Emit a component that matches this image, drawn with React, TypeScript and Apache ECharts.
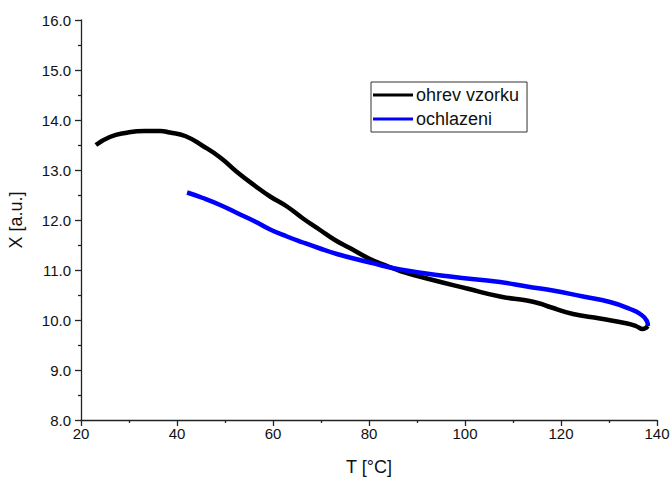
import React, { useEffect, useRef } from "react";
import * as echarts from "echarts";

const heatingT = [23.1, 26.0, 29.2, 33.3, 36.5, 38.5, 41.7, 45.4, 49.0, 52.5, 56.3, 59.4, 62.9, 66.25, 69.8, 72.9, 76.0, 80.2, 83.3, 86.5, 93.3, 100.4, 107.3, 112.9, 115.6, 117.7, 122.5, 128.1, 133.8, 135.8, 137.0, 138.1];
const heatingX = [13.5, 13.66, 13.74, 13.78, 13.78, 13.75, 13.68, 13.48, 13.25, 12.96, 12.68, 12.47, 12.27, 12.03, 11.8, 11.6, 11.44, 11.22, 11.1, 10.98, 10.8, 10.63, 10.47, 10.39, 10.33, 10.26, 10.12, 10.03, 9.93, 9.87, 9.82, 9.88];

const coolingT = [42.1, 45.4, 49.0, 52.5, 56.25, 59.4, 62.9, 66.25, 69.8, 73.3, 76.0, 80.2, 86.5, 96.9, 107.3, 112.9, 118.3, 124.6, 130.2, 134.4, 136.5, 137.9, 138.1];
const coolingX = [12.55, 12.44, 12.3, 12.14, 11.97, 11.81, 11.67, 11.55, 11.43, 11.32, 11.25, 11.15, 11.01, 10.87, 10.76, 10.67, 10.59, 10.47, 10.36, 10.22, 10.12, 9.98, 9.88];

const seriesNames = ["ohrev vzorku", "ochlazeni"];
const xTitle = "T [°C]";
const yTitle = "X [a.u.]";

const FONT = "Liberation Sans, Arial, sans-serif";

export default function App() {
  const ref = useRef<HTMLDivElement>(null);
  useEffect(() => {
    if (!ref.current) return;
    const chart = echarts.init(ref.current, null, { renderer: "svg" });
    const axisCommon = {
      axisLine: { show: true, onZero: false, lineStyle: { color: "#222", width: 1.3 } },
      axisTick: { show: true, inside: false, length: 6, lineStyle: { color: "#222", width: 1.3 } },
      minorTick: { show: true, splitNumber: 2, length: 3, lineStyle: { color: "#222", width: 1.3 } },
      splitLine: { show: false },
    };
    chart.setOption({
      animation: false,
      backgroundColor: "#fff",
      textStyle: { fontFamily: FONT },
      grid: { left: 81, top: 20, right: 14, bottom: 58, containLabel: false, outerBoundsMode: "none" },
      legend: {
        orient: "vertical",
        left: 371,
        top: 82,
        width: 161,
        padding: [4, 8, 4, 2],
        itemGap: 6,
        itemWidth: 40,
        itemHeight: 3,
        borderColor: "#333",
        borderWidth: 1,
        borderRadius: 0,
        icon: "rect",
        data: seriesNames,
        textStyle: { fontFamily: FONT, fontSize: 18, color: "#111", padding: [0, 0, 0, -2] },
      },
      xAxis: {
        type: "value",
        min: 20,
        max: 140,
        interval: 20,
        name: xTitle,
        nameLocation: "middle",
        nameGap: 38,
        nameTextStyle: { fontFamily: FONT, fontSize: 18, color: "#111" },
        axisLabel: { fontFamily: FONT, fontSize: 15, color: "#111", margin: 6 },
        ...axisCommon,
      },
      yAxis: {
        type: "value",
        min: 8,
        max: 16,
        interval: 1,
        name: yTitle,
        nameLocation: "middle",
        nameRotate: 90,
        nameGap: 56,
        nameTextStyle: { fontFamily: FONT, fontSize: 18, color: "#111" },
        axisLabel: {
          fontFamily: FONT,
          fontSize: 15,
          color: "#111",
          margin: 10,
          formatter: (v: number) => v.toFixed(1),
        },
        ...axisCommon,
      },
      series: [
        {
          name: seriesNames[0],
          type: "line",
          data: heatingT.map((t, i) => [t, heatingX[i]]),
          showSymbol: false,
          smooth: 0.5,
          lineStyle: { color: "#000", width: 4.5 },
          itemStyle: { color: "#000" },
        },
        {
          name: seriesNames[1],
          type: "line",
          data: coolingT.map((t, i) => [t, coolingX[i]]),
          showSymbol: false,
          smooth: 0.5,
          lineStyle: { color: "#0000ff", width: 4.5 },
          itemStyle: { color: "#0000ff" },
        },
      ],
    });
    return () => chart.dispose();
  }, []);
  return <div ref={ref} style={{ width: 671, height: 478, position: "absolute", left: 0, top: 0 }} />;
}
